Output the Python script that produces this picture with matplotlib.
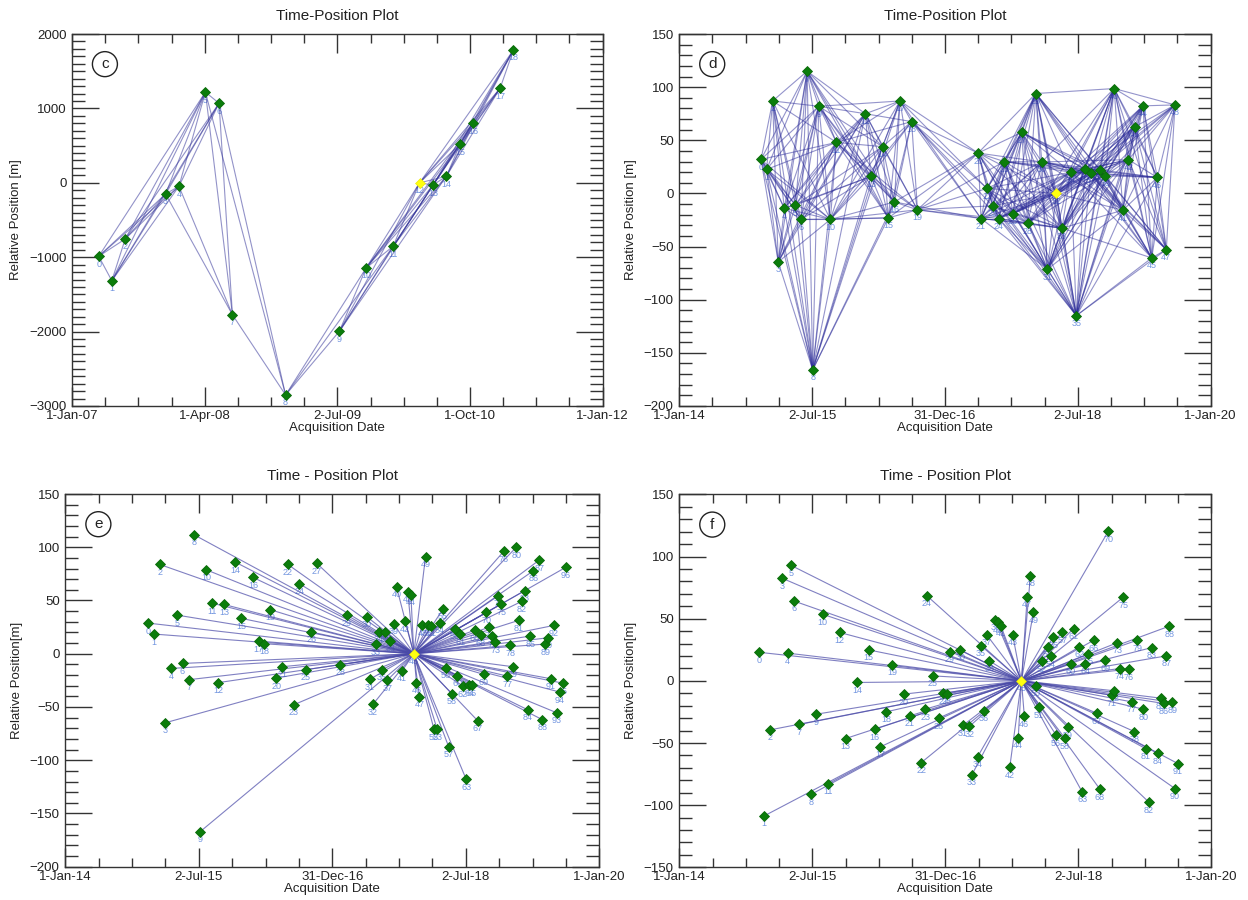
import matplotlib
matplotlib.use('Agg')
import matplotlib.pyplot as plt
import matplotlib.dates as mdates
import numpy as np
from matplotlib.collections import LineCollection
from matplotlib.ticker import MultipleLocator

plt.rcParams['font.family'] = ['Liberation Sans', 'DejaVu Sans']

# ---------------- data ----------------
# panel c : small baseline network, 2007-2011
c_dates = ['2007-04-03', '2007-05-18', '2007-07-03', '2007-11-19', '2008-01-04',
           '2008-04-04', '2008-05-21', '2008-07-06', '2009-01-05', '2009-07-09',
           '2009-10-09', '2010-01-10', '2010-04-11', '2010-05-27', '2010-07-12',
           '2010-08-28', '2010-10-12', '2011-01-13', '2011-02-28']
c_pos = [-988, -1316, -755, -150, -47, 1220, 1069, -1773, -2852, -1996,
         -1145, -853, 0, -30, 87, 517, 800, 1270, 1785]
c_master = 12
# interferometric pairs
c_pairs = [(0, 1), (0, 2), (0, 3), (0, 4), (0, 5),
           (1, 2), (1, 3), (1, 4), (1, 5), (1, 6),
           (2, 3), (2, 4), (2, 5), (2, 6),
           (3, 4), (3, 5), (3, 6), (3, 7),
           (4, 5), (4, 6), (4, 7),
           (5, 6), (5, 7), (5, 8), (6, 7), (6, 8), (7, 8),
           (8, 9), (8, 10), (8, 11),
           (9, 10), (9, 11), (9, 12), (9, 13), (9, 14),
           (10, 11), (10, 12), (10, 13), (10, 14), (10, 15), (10, 16),
           (11, 12), (11, 13), (11, 14), (11, 15), (11, 16),
           (12, 13), (12, 14), (12, 15), (12, 16), (12, 17), (12, 18),
           (13, 14), (13, 15), (13, 16), (13, 17), (13, 18),
           (14, 15), (14, 16), (14, 17), (14, 18),
           (15, 16), (15, 17), (15, 18), (16, 17), (16, 18), (17, 18)]

# panel d : small baseline network, 2014-2019
d_dates = ['2014-12-04', '2014-12-27', '2015-01-21', '2015-02-13', '2015-03-10',
           '2015-04-25', '2015-05-18', '2015-06-12', '2015-07-05', '2015-07-30',
           '2015-09-16', '2015-10-11', '2016-02-07', '2016-03-01', '2016-04-18',
           '2016-05-12', '2016-06-06', '2016-06-29', '2016-08-16', '2016-09-09',
           '2017-05-17', '2017-05-29', '2017-06-23', '2017-07-16', '2017-08-10',
           '2017-09-02', '2017-10-08', '2017-11-13', '2017-12-07', '2018-01-10',
           '2018-02-04', '2018-02-27', '2018-04-05', '2018-04-28', '2018-06-03',
           '2018-06-26', '2018-08-01', '2018-08-25', '2018-09-30', '2018-10-23',
           '2018-11-29', '2019-01-04', '2019-01-27', '2019-02-21', '2019-03-28',
           '2019-05-03', '2019-05-26', '2019-07-02', '2019-08-07']
d_pos = [32, 22.6, 87, -64.5, -14, -11, -24.5, 115, -166, 82,
         -24.5, 48, 75, 16, 44, -23, -8, 87, 67.6, -15.4,
         38, -23.6, 4.7, -11.6, -23.6, 30, -19, 57.5, -28, 94,
         29.6, -71.4, 0, -32.7, 20, -115, 22.6, 19.5, 22.3, 16.7,
         98.7, -15.7, 31.8, 62.6, 82.4, -60.7, 15, -52.8, 83.3]
d_master = 32
d_max_days = 380

# panel e : single master (star) graph
e_dates = ['2014-12-06', '2014-12-29', '2015-01-23', '2015-02-16', '2015-03-12',
           '2015-04-04', '2015-04-27', '2015-05-22', '2015-06-15', '2015-07-09',
           '2015-08-02', '2015-08-25', '2015-09-19', '2015-10-14', '2015-11-29',
           '2015-12-24', '2016-02-10', '2016-03-05', '2016-03-28', '2016-04-22',
           '2016-05-15', '2016-06-09', '2016-07-02', '2016-07-27', '2016-08-19',
           '2016-09-13', '2016-10-06', '2016-10-29', '2017-02-03', '2017-02-28',
           '2017-05-22', '2017-06-03', '2017-06-16', '2017-06-28', '2017-07-10',
           '2017-07-23', '2017-08-04', '2017-08-15', '2017-08-27', '2017-09-09',
           '2017-09-21', '2017-10-14', '2017-10-26', '2017-11-06', '2017-11-19',
           '2017-12-01', '2017-12-12', '2017-12-24', '2018-01-05', '2018-01-18',
           '2018-01-30', '2018-02-11', '2018-02-22', '2018-03-07', '2018-03-19',
           '2018-03-31', '2018-04-11', '2018-04-23', '2018-05-06', '2018-05-17',
           '2018-05-29', '2018-06-10', '2018-06-21', '2018-07-04', '2018-07-16',
           '2018-07-28', '2018-08-08', '2018-08-20', '2018-09-02', '2018-09-14',
           '2018-09-25', '2018-10-07', '2018-10-19', '2018-11-01', '2018-11-13',
           '2018-11-24', '2018-12-06', '2018-12-19', '2018-12-31', '2019-01-12',
           '2019-01-25', '2019-02-04', '2019-02-17', '2019-03-01', '2019-03-13',
           '2019-03-24', '2019-04-06', '2019-04-30', '2019-05-13', '2019-05-25',
           '2019-06-05', '2019-06-17', '2019-06-29', '2019-07-10', '2019-07-23',
           '2019-08-04', '2019-08-16']
e_pos = [28.8, 18.5, 83.9, -64.8, -13.8, 36.3, -9.1, -24.4, 111.5, -167,
         78.9, 47.6, -27.2, 46.3, 86.1, 33.2, 71.7, 11.9, 9.4, 41.3,
         -22.9, -12.2, 83.9, -47.9, 65.7, -15, 20.4, 84.8, -10.3, 36.3,
         34.8, -24.1, -47.6, 9.1, 20.7, -15, 20.7, -24.7, 12.2, 28.2,
         62.9, -16, 30.7, 58.2, 55.4, 0, -27.2, -40.4, 26.9, 91.1,
         26.9, 26.3, -71, -71, 29.1, 42, -13.1, -87.4, -37.6, 23.5,
         -20.7, 18.5, -30.4, -118, -29.7, -29.7, 22.2, -62.9, 17.2, -19.4,
         38.8, 25, 16.6, 10.6, 54.5, 46.6, 96.4, -21, 7.8, -12.2,
         99.9, 31.3, 49.2, 59.2, -52.6, 16.6, 78, 88, -62, 9.1,
         15, -23.5, 26.6, -55.4, -36, -27.6, 81.1]
e_master = 45

# panel f : single master (star) graph
f_dates = ['2014-11-24', '2014-12-17', '2015-01-11', '2015-02-28', '2015-03-23',
           '2015-04-05', '2015-04-17', '2015-05-10', '2015-06-27', '2015-07-20',
           '2015-08-14', '2015-09-06', '2015-10-24', '2015-11-17', '2016-01-03',
           '2016-02-20', '2016-03-16', '2016-04-08', '2016-05-03', '2016-05-26',
           '2016-07-13', '2016-08-07', '2016-09-24', '2016-10-10', '2016-10-17',
           '2016-11-09', '2016-12-04', '2016-12-23', '2017-01-06', '2017-01-19',
           '2017-03-03', '2017-03-15', '2017-04-09', '2017-04-20', '2017-05-14',
           '2017-05-27', '2017-06-08', '2017-06-20', '2017-07-01', '2017-07-26',
           '2017-08-06', '2017-08-17', '2017-09-23', '2017-10-05', '2017-10-28',
           '2017-11-10', '2017-11-22', '2017-12-04', '2017-12-17', '2017-12-29',
           '2018-01-09', '2018-01-21', '2018-02-03', '2018-02-26', '2018-03-10',
           '2018-03-22', '2018-04-02', '2018-04-27', '2018-05-08', '2018-05-20',
           '2018-06-02', '2018-06-13', '2018-07-07', '2018-07-18', '2018-07-31',
           '2018-08-12', '2018-09-04', '2018-09-16', '2018-09-29', '2018-10-22',
           '2018-11-03', '2018-11-16', '2018-11-28', '2018-12-09', '2018-12-21',
           '2019-01-03', '2019-01-26', '2019-02-07', '2019-02-18', '2019-03-02',
           '2019-03-27', '2019-04-07', '2019-04-19', '2019-05-02', '2019-05-25',
           '2019-06-06', '2019-06-19', '2019-06-30', '2019-07-12', '2019-07-24',
           '2019-08-04', '2019-08-16']
f_pos = [23, -108.6, -39.4, 82.6, 22.3, 93, 64.3, -35.1, -91.4, -26.8,
         53.6, -82.8, 38.9, -46.4, -1.3, 24.9, -38.9, -53.1, -24.9, 13.1,
         -10.7, -28.2, -65.7, -22.8, 68.4, 4, -30, -10, -10.5, 23.6,
         24.9, -35.7, -36.7, -75.6, -60.9, 28.4, -23.9, 37, 16.1, 49,
         47.2, 44.5, -69.4, 37, -45.6, 0, -28.4, 67.6, 84.7, 55,
         -4, -21.2, 15.8, 27.3, 19.8, 34.9, -43.7, 39.1, -46.1, -37.3,
         13.7, 42.1, 27.3, -89.3, 13.9, 21.7, 32.7, -26, -87.1, 16.6,
         120.4, -11.5, -8, 30.6, 9.9, 67.3, 9.4, -16.9, -40.8, 32.7,
         -22.8, -54.7, -97.6, 26.8, -58.4, -13.9, -18.2, 20.1, 44, -17.2,
         -86.6, -66.5]
f_master = 45

# axis settings
c_xticklabels = ['1-Jan-07', '1-Apr-08', '2-Jul-09', '1-Oct-10', '1-Jan-12']
c_xrange = ['2007-01-01', '2012-01-01']
c_yrange = [-3000, 2000]
def_xticklabels = ['1-Jan-14', '2-Jul-15', '31-Dec-16', '2-Jul-18', '1-Jan-20']
def_xrange = ['2014-01-01', '2020-01-01']


def time_pairs(x, max_days):
    pairs = []
    for i in range(len(x)):
        for j in range(i + 1, len(x)):
            if x[j] - x[i] <= max_days:
                pairs.append((i, j))
    return pairs


def star_pairs(n, master):
    return [(i, master) for i in range(n) if i != master]


def draw_panel(ax, dates, pos, master, pairs, line_color, line_alpha):
    x = mdates.datestr2num(dates)
    y = np.array(pos, dtype=float)
    segs = [[(x[i], y[i]), (x[j], y[j])] for i, j in pairs]
    ax.add_collection(LineCollection(segs, colors=line_color, linewidths=0.8,
                                     alpha=line_alpha, zorder=2))
    for k in range(len(x)):
        ax.annotate(str(k), (x[k], y[k]), xytext=(0, -2.5), textcoords='offset points',
                    ha='center', va='top', fontsize=6.5, color='#7396e0', zorder=1)
    others = [k for k in range(len(x)) if k != master]
    ax.plot(x[others], y[others], 'D', color='#0b7d0b', markersize=4.6,
            markeredgewidth=0.6, markeredgecolor='#0a6a0a', zorder=3)
    ax.plot(x[master], y[master], 'D', color='#ffff10', markersize=4.6,
            markeredgewidth=0.4, markeredgecolor='#e8e800', zorder=4)


def style_axes(ax, xrange, xlabels, ylim, ymajor, yminor, title, ylabel, letter):
    x0, x1 = mdates.datestr2num(xrange)
    ax.set_xlim(x0, x1)
    ax.set_ylim(*ylim)
    ax.set_xticks(np.linspace(x0, x1, 5))
    ax.set_xticklabels(xlabels)
    ax.set_xticks(np.linspace(x0, x1, 17), minor=True)
    ax.yaxis.set_major_locator(MultipleLocator(ymajor))
    ax.yaxis.set_minor_locator(MultipleLocator(yminor))
    ax.tick_params(which='both', direction='in', top=True, right=True,
                   color='#333333', width=1, labelsize=9.5, labelcolor='#222222')
    ax.tick_params(axis='x', which='major', length=13.5, pad=3)
    ax.tick_params(axis='x', which='minor', length=6.5)
    ax.tick_params(axis='y', which='major', length=19.5, pad=4)
    ax.tick_params(axis='y', which='minor', length=9.5)
    for s in ax.spines.values():
        s.set_color('#333333')
        s.set_linewidth(1)
    ax.set_title(title, fontsize=11, pad=10, color='#222222')
    ax.set_xlabel('Acquisition Date', fontsize=9.5, labelpad=0, color='#222222')
    ax.set_ylabel(ylabel, fontsize=9.5, color='#222222', labelpad=5)
    ax.text(0.062, 0.919, letter, transform=ax.transAxes, ha='center', va='center',
            fontsize=11, color='#222222', zorder=5,
            bbox=dict(boxstyle='circle,pad=0.36', fc='white', ec='#222222', lw=1))


fig = plt.figure(figsize=(12.48, 9), dpi=100)
ax_c = fig.add_axes([0.0577, 0.5489, 0.4252, 0.4133])
ax_d = fig.add_axes([0.5443, 0.5489, 0.4258, 0.4133])
ax_e = fig.add_axes([0.0523, 0.0370, 0.4279, 0.4141])
ax_f = fig.add_axes([0.5443, 0.0363, 0.4263, 0.4144])

draw_panel(ax_c, c_dates, c_pos, c_master, c_pairs, '#3a3a9c', 0.55)
dx = mdates.datestr2num(d_dates)
draw_panel(ax_d, d_dates, d_pos, d_master, time_pairs(dx, d_max_days), '#2a2a98', 0.5)
draw_panel(ax_e, e_dates, e_pos, e_master, star_pairs(len(e_dates), e_master), '#4a4aa8', 0.7)
draw_panel(ax_f, f_dates, f_pos, f_master, star_pairs(len(f_dates), f_master), '#4a4aa8', 0.7)

style_axes(ax_c, c_xrange, c_xticklabels, c_yrange, 1000, 100,
           'Time-Position Plot', 'Relative Position [m]', 'c')
style_axes(ax_d, def_xrange, def_xticklabels, [-200, 150], 50, 10,
           'Time-Position Plot', 'Relative Position [m]', 'd')
style_axes(ax_e, def_xrange, def_xticklabels, [-200, 150], 50, 10,
           'Time - Position Plot', 'Relative Position[m]', 'e')
style_axes(ax_f, def_xrange, def_xticklabels, [-150, 150], 50, 10,
           'Time - Position Plot', 'Relative Position[m]', 'f')

fig.savefig('out.png', dpi=100)
